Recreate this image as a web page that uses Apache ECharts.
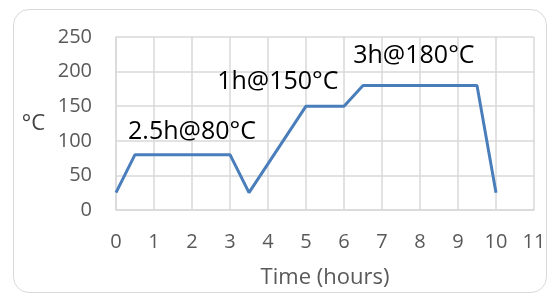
<!DOCTYPE html>
<html>
<head>
<meta charset="utf-8">
<script src="https://cdn.jsdelivr.net/npm/echarts@6/dist/echarts.min.js"></script>
<style>
  html, body { margin: 0; padding: 0; background: #fff; }
  #frame { position: absolute; left: 13px; top: 9px; width: 534px; height: 284px;
           border: 1px solid #d9d9d9; border-radius: 16px; box-sizing: border-box; }
  #chart { position: absolute; left: 0; top: 0; width: 553px; height: 294px; }
</style>
</head>
<body>
<div id="frame"></div>
<div id="chart"></div>
<script>
// profile of the cure cycle: [hours, °C]
const timeHours = [0, 0.5, 3, 3.5, 5, 6, 6.5, 9.5, 10];
const tempC = [25, 80, 80, 25, 150, 150, 180, 180, 25];

const xTicks = [0, 1, 2, 3, 4, 5, 6, 7, 8, 9, 10, 11];
const yTicks = [0, 50, 100, 150, 200, 250];

// annotations (text, x in hours, y in °C)
const noteText = ['2.5h@80°C', '1h@150°C', '3h@180°C'];
const noteX = [2, 4.26, 7.84];
const noteY = [113, 185, 223];

const FONT = '"Open Sans", sans-serif';

const chart = echarts.init(document.getElementById('chart'));

chart.setOption({
  animation: false,
  grid: { left: 116, top: 37, right: 19, bottom: 83 },
  xAxis: {
    type: 'value',
    min: xTicks[0], max: xTicks[xTicks.length - 1], interval: 1,
    name: 'Time (hours)', nameLocation: 'middle', nameGap: 57,
    nameTextStyle: { color: '#595959', fontSize: 22, fontFamily: FONT },
    axisLine: { show: true, lineStyle: { color: '#d9d9d9', width: 1.5 } },
    axisTick: { show: false },
    axisLabel: { color: '#595959', fontSize: 20, fontFamily: FONT, margin: 22 },
    splitLine: { show: true, lineStyle: { color: '#d9d9d9', width: 1.5 } }
  },
  yAxis: {
    type: 'value',
    min: yTicks[0], max: yTicks[yTicks.length - 1], interval: 50,
    name: '°C', nameLocation: 'middle', nameGap: 71, nameRotate: 0,
    nameTextStyle: { color: '#404040', fontSize: 22, fontFamily: FONT },
    axisLine: { show: true, lineStyle: { color: '#d9d9d9', width: 1.5 } },
    axisTick: { show: false },
    axisLabel: { color: '#595959', fontSize: 20, fontFamily: FONT, margin: 24 },
    splitLine: { show: true, lineStyle: { color: '#d9d9d9', width: 1.5 } }
  },
  series: [{
    type: 'line',
    data: timeHours.map((t, i) => [t, tempC[i]]),
    symbol: 'none',
    lineStyle: { color: '#4a7ebb', width: 3 },
    markPoint: {
      symbol: 'rect', symbolSize: 1,
      itemStyle: { color: 'transparent' },
      label: { show: true, position: 'inside', color: '#000', fontSize: 25, fontFamily: FONT,
               formatter: p => p.name },
      data: noteText.map((s, i) => ({ name: s, coord: [noteX[i], noteY[i]] }))
    }
  }]
});
</script>
</body>
</html>
